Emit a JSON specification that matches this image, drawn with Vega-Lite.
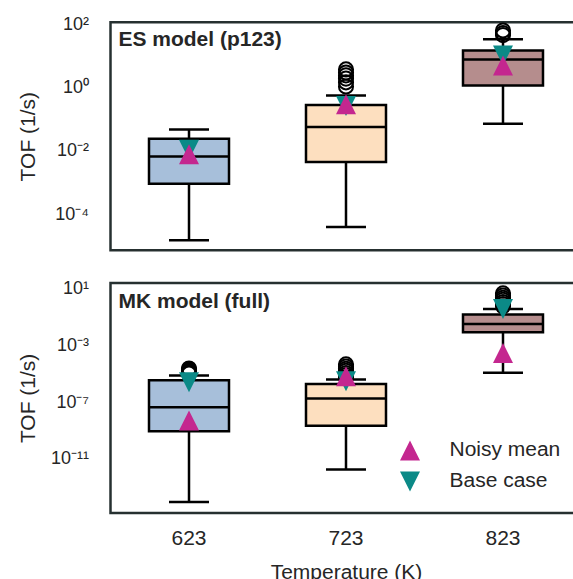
{
  "$schema": "https://vega.github.io/schema/vega-lite/v6.json",
  "background": "white",
  "padding": {"left": 15.5, "top": 13.2, "right": 0, "bottom": 0},
  "spacing": 25.7,
  "datasets": {
    "es_box": [
      {"temp": "623", "lo": 1.48e-5, "q1": 9.1e-4, "med": 6.6e-3, "q3": 0.024, "hi": 0.047},
      {"temp": "723", "lo": 3.9e-5, "q1": 4.4e-3, "med": 0.056, "q3": 0.28, "hi": 0.56},
      {"temp": "823", "lo": 0.071, "q1": 1.15, "med": 7.6, "q3": 14.8, "hi": 33}
    ],
    "es_out": [
      {"temp": "723", "tof": 3.7}, {"temp": "723", "tof": 2.95}, {"temp": "723", "tof": 2.4},
      {"temp": "723", "tof": 1.9}, {"temp": "723", "tof": 1.45}, {"temp": "723", "tof": 1.07},
      {"temp": "823", "tof": 63}, {"temp": "823", "tof": 52}, {"temp": "823", "tof": 45}
    ],
    "es_mark": [
      {"temp": "623", "kind": "Base case", "tof": 0.0107},
      {"temp": "723", "kind": "Base case", "tof": 0.257},
      {"temp": "823", "kind": "Base case", "tof": 10.2},
      {"temp": "623", "kind": "Noisy mean", "tof": 7.8e-3},
      {"temp": "723", "kind": "Noisy mean", "tof": 0.295},
      {"temp": "823", "kind": "Noisy mean", "tof": 4.9}
    ],
    "es_label": [{"temp": "623", "tof": 21.1, "label": "ES model (p123)"}],
    "mk_box": [
      {"temp": "623", "lo": 9.3e-15, "q1": 8.9e-10, "med": 4.4e-8, "q3": 3.5e-6, "hi": 7.4e-6},
      {"temp": "723", "lo": 1.8e-12, "q1": 2.2e-9, "med": 1.8e-7, "q3": 1.9e-6, "hi": 3.9e-6},
      {"temp": "823", "lo": 1.15e-5, "q1": 8.3e-3, "med": 0.032, "q3": 0.148, "hi": 0.36}
    ],
    "mk_out": [
      {"temp": "623", "tof": 2.3e-5}, {"temp": "623", "tof": 2.0e-5}, {"temp": "623", "tof": 1.66e-5},
      {"temp": "623", "tof": 1.4e-5}, {"temp": "623", "tof": 1.2e-5}, {"temp": "623", "tof": 1.0e-5},
      {"temp": "723", "tof": 4.5e-5}, {"temp": "723", "tof": 3.2e-5}, {"temp": "723", "tof": 2.2e-5},
      {"temp": "723", "tof": 1.6e-5}, {"temp": "723", "tof": 1.1e-5}, {"temp": "723", "tof": 7.9e-6},
      {"temp": "723", "tof": 5.6e-6},
      {"temp": "823", "tof": 4.5}, {"temp": "823", "tof": 3.2}, {"temp": "823", "tof": 2.2},
      {"temp": "823", "tof": 1.6}, {"temp": "823", "tof": 1.1}, {"temp": "823", "tof": 0.79},
      {"temp": "823", "tof": 0.56}
    ],
    "mk_mark": [
      {"temp": "623", "kind": "Base case", "tof": 2.5e-6},
      {"temp": "723", "kind": "Base case", "tof": 2.95e-6},
      {"temp": "823", "kind": "Base case", "tof": 0.36},
      {"temp": "623", "kind": "Noisy mean", "tof": 5e-9},
      {"temp": "723", "kind": "Noisy mean", "tof": 6.6e-6},
      {"temp": "823", "kind": "Noisy mean", "tof": 2.9e-4}
    ],
    "mk_label": [{"temp": "623", "tof": 0.427, "label": "MK model (full)"}]
  },
  "resolve": {
    "scale": {"color": "independent", "shape": "independent", "fill": "independent"},
    "legend": {"color": "independent", "shape": "independent", "fill": "independent"}
  },
  "config": {
    "font": "Liberation Sans",
    "view": {"stroke": "#263030", "strokeWidth": 2.5},
    "axis": {
      "grid": false, "ticks": false, "tickSize": 0, "domain": false,
      "labelFont": "Liberation Sans", "titleFont": "Liberation Sans",
      "labelColor": "#262626", "titleColor": "#262626",
      "labelFontSize": 21, "titleFontSize": 21, "titleFontWeight": "normal"
    },
    "axisY": {
      "labelFontSize": 18, "labelPadding": 22, "titleX": -82, "titleBaseline": "middle",
      "labelExpr": "datum.value > 50 ? '10²' : datum.value > 5 ? '10¹' : datum.value > 0.5 ? '10⁰' : datum.value > 5e-3 ? '10⁻²' : datum.value > 5e-4 ? '10⁻³' : datum.value > 5e-5 ? '10⁻⁴' : datum.value > 5e-8 ? '10⁻⁷' : '10⁻¹¹'"
    }
  },
  "vconcat": [
    {
      "width": 471, "height": 228,
      "layer": [
        {
          "data": {"name": "es_box"},
          "mark": {"type": "rule", "color": "black", "strokeWidth": 2.5},
          "encoding": {
            "x": {"field": "temp", "type": "nominal", "axis": null, "scale": {"paddingInner": 0, "paddingOuter": 0}},
            "y": {"field": "lo", "type": "quantitative", "title": "TOF (1/s)", "scale": {"type": "log", "domain": [7.2e-6, 115], "nice": false}, "axis": {"values": [1e-4, 1e-2, 1, 100]}},
            "y2": {"field": "hi"}
          }
        },
        {
          "data": {"name": "es_box"},
          "mark": {"type": "tick", "color": "black", "size": 40, "thickness": 2.5, "opacity": 1},
          "encoding": {
            "x": {"field": "temp", "type": "nominal", "axis": null},
            "y": {"field": "lo", "type": "quantitative", "title": "TOF (1/s)"}
          }
        },
        {
          "data": {"name": "es_box"},
          "mark": {"type": "tick", "color": "black", "size": 40, "thickness": 2.5, "opacity": 1},
          "encoding": {
            "x": {"field": "temp", "type": "nominal", "axis": null},
            "y": {"field": "hi", "type": "quantitative", "title": "TOF (1/s)"}
          }
        },
        {
          "data": {"name": "es_box"},
          "mark": {"type": "bar", "size": 80, "stroke": "black", "strokeWidth": 2.5},
          "encoding": {
            "x": {"field": "temp", "type": "nominal", "axis": null},
            "y": {"field": "q1", "type": "quantitative", "title": "TOF (1/s)"},
            "y2": {"field": "q3"},
            "fill": {"field": "temp", "type": "nominal", "legend": null, "scale": {"domain": ["623", "723", "823"], "range": ["#a7bfda", "#fddfbf", "#b58d8d"]}}
          }
        },
        {
          "data": {"name": "es_box"},
          "mark": {"type": "tick", "color": "black", "size": 80, "thickness": 2.5, "opacity": 1},
          "encoding": {
            "x": {"field": "temp", "type": "nominal", "axis": null},
            "y": {"field": "med", "type": "quantitative", "title": "TOF (1/s)"}
          }
        },
        {
          "data": {"name": "es_out"},
          "mark": {"type": "point", "shape": "circle", "filled": false, "stroke": "black", "strokeWidth": 2, "size": 200, "opacity": 1},
          "encoding": {
            "x": {"field": "temp", "type": "nominal", "axis": null},
            "y": {"field": "tof", "type": "quantitative", "title": "TOF (1/s)"}
          }
        },
        {
          "data": {"name": "es_mark"},
          "mark": {"type": "point", "filled": true, "size": 400, "opacity": 1, "strokeWidth": 0},
          "encoding": {
            "x": {"field": "temp", "type": "nominal", "axis": null},
            "y": {"field": "tof", "type": "quantitative", "title": "TOF (1/s)"},
            "color": {"field": "kind", "type": "nominal", "legend": null, "scale": {"domain": ["Noisy mean", "Base case"], "range": ["#c4278f", "#0b8a87"]}},
            "shape": {"field": "kind", "type": "nominal", "legend": null, "scale": {"domain": ["Noisy mean", "Base case"], "range": ["M0,-1L1,1L-1,1Z", "M0,1L1,-1L-1,-1Z"]}}
          }
        },
        {
          "data": {"name": "es_label"},
          "mark": {"type": "text", "align": "left", "baseline": "alphabetic", "dx": 8, "fontSize": 21, "fontWeight": "bold", "color": "#262626", "font": "Liberation Sans"},
          "encoding": {
            "x": {"field": "temp", "type": "nominal", "axis": null, "bandPosition": 0},
            "y": {"field": "tof", "type": "quantitative", "title": "TOF (1/s)"},
            "text": {"field": "label"}
          }
        }
      ]
    },
    {
      "width": 471, "height": 230,
      "layer": [
        {
          "data": {"name": "mk_box"},
          "mark": {"type": "rule", "color": "black", "strokeWidth": 2.5},
          "encoding": {
            "x": {"field": "temp", "type": "nominal", "title": "Temperature (K)", "scale": {"paddingInner": 0, "paddingOuter": 0}, "axis": {"labelAngle": 0, "labelPadding": 15, "titlePadding": 13}},
            "y": {"field": "lo", "type": "quantitative", "title": "TOF (1/s)", "scale": {"type": "log", "domain": [1.6e-15, 24.5], "nice": false}, "axis": {"values": [1e-11, 1e-7, 1e-3, 10]}},
            "y2": {"field": "hi"}
          }
        },
        {
          "data": {"name": "mk_box"},
          "mark": {"type": "tick", "color": "black", "size": 40, "thickness": 2.5, "opacity": 1},
          "encoding": {
            "x": {"field": "temp", "type": "nominal", "title": "Temperature (K)"},
            "y": {"field": "lo", "type": "quantitative", "title": "TOF (1/s)"}
          }
        },
        {
          "data": {"name": "mk_box"},
          "mark": {"type": "tick", "color": "black", "size": 40, "thickness": 2.5, "opacity": 1},
          "encoding": {
            "x": {"field": "temp", "type": "nominal", "title": "Temperature (K)"},
            "y": {"field": "hi", "type": "quantitative", "title": "TOF (1/s)"}
          }
        },
        {
          "data": {"name": "mk_box"},
          "mark": {"type": "bar", "size": 80, "stroke": "black", "strokeWidth": 2.5},
          "encoding": {
            "x": {"field": "temp", "type": "nominal", "title": "Temperature (K)"},
            "y": {"field": "q1", "type": "quantitative", "title": "TOF (1/s)"},
            "y2": {"field": "q3"},
            "fill": {"field": "temp", "type": "nominal", "legend": null, "scale": {"domain": ["623", "723", "823"], "range": ["#a7bfda", "#fddfbf", "#b58d8d"]}}
          }
        },
        {
          "data": {"name": "mk_box"},
          "mark": {"type": "tick", "color": "black", "size": 80, "thickness": 2.5, "opacity": 1},
          "encoding": {
            "x": {"field": "temp", "type": "nominal", "title": "Temperature (K)"},
            "y": {"field": "med", "type": "quantitative", "title": "TOF (1/s)"}
          }
        },
        {
          "data": {"name": "mk_out"},
          "mark": {"type": "point", "shape": "circle", "filled": false, "stroke": "black", "strokeWidth": 2, "size": 200, "opacity": 1},
          "encoding": {
            "x": {"field": "temp", "type": "nominal", "title": "Temperature (K)"},
            "y": {"field": "tof", "type": "quantitative", "title": "TOF (1/s)"}
          }
        },
        {
          "data": {"name": "mk_mark"},
          "mark": {"type": "point", "filled": true, "size": 400, "opacity": 1, "strokeWidth": 0},
          "encoding": {
            "x": {"field": "temp", "type": "nominal", "title": "Temperature (K)"},
            "y": {"field": "tof", "type": "quantitative", "title": "TOF (1/s)"},
            "color": {"field": "kind", "type": "nominal", "title": null,
              "legend": {"orient": "none", "legendX": 289, "legendY": 157, "labelFontSize": 21, "labelColor": "#262626", "labelFont": "Liberation Sans", "symbolSize": 400, "labelOffset": 29, "rowPadding": 9, "padding": 0, "symbolStrokeWidth": 0, "symbolOpacity": 1},
              "scale": {"domain": ["Noisy mean", "Base case"], "range": ["#c4278f", "#0b8a87"]}},
            "shape": {"field": "kind", "type": "nominal", "title": null,
              "legend": {"orient": "none", "legendX": 289, "legendY": 157, "labelFontSize": 21, "labelColor": "#262626", "labelFont": "Liberation Sans", "symbolSize": 400, "labelOffset": 29, "rowPadding": 9, "padding": 0, "symbolStrokeWidth": 0, "symbolOpacity": 1},
              "scale": {"domain": ["Noisy mean", "Base case"], "range": ["M0,-1L1,1L-1,1Z", "M0,1L1,-1L-1,-1Z"]}}
          }
        },
        {
          "data": {"name": "mk_label"},
          "mark": {"type": "text", "align": "left", "baseline": "alphabetic", "dx": 8, "fontSize": 21, "fontWeight": "bold", "color": "#262626", "font": "Liberation Sans"},
          "encoding": {
            "x": {"field": "temp", "type": "nominal", "title": "Temperature (K)", "bandPosition": 0},
            "y": {"field": "tof", "type": "quantitative", "title": "TOF (1/s)"},
            "text": {"field": "label"}
          }
        }
      ]
    }
  ]
}
